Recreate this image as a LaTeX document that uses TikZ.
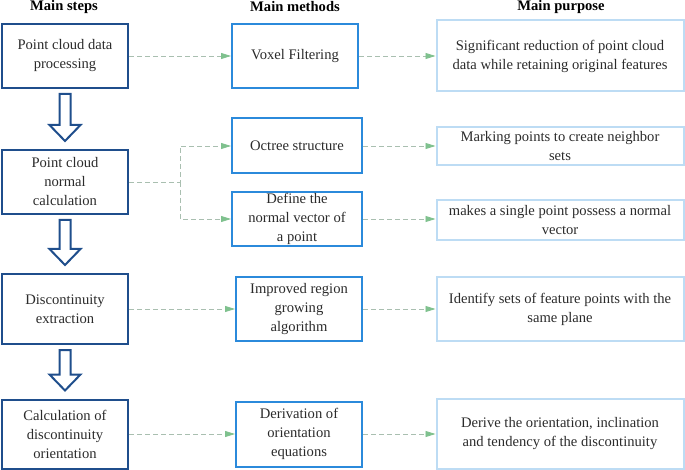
\documentclass[tikz,border=0pt]{standalone}
\usepackage{fontspec}
\setmainfont{Liberation Serif}
\usetikzlibrary{arrows.meta,calc}

\definecolor{stepblue}{HTML}{1F4E8C}
\definecolor{methodblue}{HTML}{2B8ADB}
\definecolor{purposeblue}{HTML}{BDDCF4}
\definecolor{linkgrey}{HTML}{A9BFB0}
\definecolor{linkgreen}{HTML}{7FC18E}
\definecolor{textgrey}{HTML}{2B2B2B}

\tikzset{
  anybox/.style={draw, line width=2pt, align=center, inner sep=0pt, text=textgrey,
    font=\fontsize{14.6}{19}\selectfont},
  stepbox/.style={anybox, draw=stepblue, minimum width=126pt},
  methodbox/.style={anybox, draw=methodblue},
  purposebox/.style={anybox, draw=purposeblue, minimum width=247pt},
  header/.style={font=\bfseries\fontsize{14.6}{16}\selectfont, text=black},
  link/.style={draw=linkgrey, line width=0.8pt, dash pattern=on 5pt off 3pt,
    -{Triangle[length=10pt,width=6pt,color=linkgreen,fill=linkgreen]}},
  blockarrow/.style={draw=stepblue, line width=2pt, fill=white, line join=miter}
}

% hollow block arrow between two step boxes
\newcommand{\flowarrow}[2]{%
  \draw[blockarrow] ([xshift=-5.5pt,yshift=-5pt]#1.south) -- ([xshift=-5.5pt,yshift=24pt]#2.north)
    -- ([xshift=-15.5pt,yshift=24pt]#2.north) -- ([yshift=8pt]#2.north)
    -- ([xshift=15.5pt,yshift=24pt]#2.north) -- ([xshift=5.5pt,yshift=24pt]#2.north)
    -- ([xshift=5.5pt,yshift=-5pt]#1.south) -- cycle;}

\begin{document}
\begin{tikzpicture}[x=1pt,y=-1pt]
\useasboundingbox (0,0) rectangle (685,470);
% Headers
\node[header] (hsteps) at (64,6.5) {Main steps};
\node[header] (hmethods) at (295,6.5) {Main methods};
\node[header] (hpurpose) at (561,6.5) {Main purpose};
% Main steps
\node[stepbox, minimum height=64pt] (s1) at (65,56) {Point cloud data\\processing};
\node[stepbox, minimum height=64pt] (s2) at (65,182) {Point cloud\\normal\\calculation};
\node[stepbox, minimum height=70pt] (s3) at (65,309) {Discontinuity\\extraction};
\node[stepbox, minimum height=69pt] (s4) at (65,434) {Calculation of\\discontinuity\\orientation};
% Main methods
\node[methodbox, minimum width=126pt, minimum height=64pt] (m1) at (295,56) {Voxel Filtering};
\node[methodbox, minimum width=130pt, minimum height=55pt] (m2) at (297,146) {Octree structure};
\node[methodbox, minimum width=130pt, minimum height=54pt] (m3) at (297,219) {Define the\\normal vector of\\a point};
\node[methodbox, minimum width=126pt, minimum height=63pt] (m4) at (299,309) {Improved region\\growing\\algorithm};
\node[methodbox, minimum width=126pt, minimum height=65pt] (m5) at (299,434) {Derivation of\\orientation\\equations};
% Main purpose
\node[purposebox, minimum height=71pt] (p1) at (560,56) {Significant reduction of point cloud\\data while retaining original features};
\node[purposebox, minimum height=38pt] (p2) at (560,146) {Marking points to create neighbor\\sets};
\node[purposebox, minimum height=40pt] (p3) at (560,220) {makes a single point possess a normal\\vector};
\node[purposebox, minimum height=63pt] (p4) at (560,309) {Identify sets of feature points with the\\same plane};
\node[purposebox, minimum height=70pt] (p5) at (560,434) {Derive the orientation, inclination\\and tendency of the discontinuity};
% Block arrows
\flowarrow{s1}{s2}
\flowarrow{s2}{s3}
\flowarrow{s3}{s4}
% Dashed links
\coordinate (split) at (180,182);
\draw[link] (s1.east) -- (m1.west);
\draw[link] (s2.east) -- (split) |- (m2.west);
\draw[link] (split) |- (m3.west);
\draw[link] (s3.east) -- (s3.east -| m4.west);
\draw[link] (s4.east) -- (s4.east -| m5.west);
\draw[link] (m1.east) -- (m1.east -| p1.west);
\draw[link] (m2.east) -- (m2.east -| p2.west);
\draw[link] (m3.east) -- (m3.east -| p3.west);
\draw[link] (m4.east) -- (m4.east -| p4.west);
\draw[link] (m5.east) -- (m5.east -| p5.west);
\end{tikzpicture}
\end{document}
